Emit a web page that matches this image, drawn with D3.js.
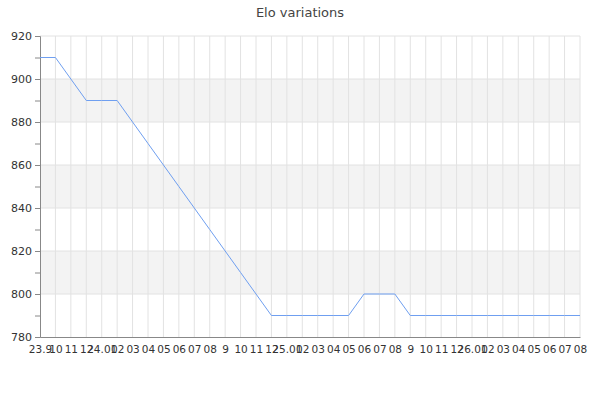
<!DOCTYPE html>
<html>
<head>
<meta charset="utf-8">
<script src="https://cdn.jsdelivr.net/npm/d3@7"></script>
<style>
  body { margin: 0; background: #fff; }
  svg { font-family: "DejaVu Sans", sans-serif; }
</style>
</head>
<body>
<svg id="chart" width="600" height="400"></svg>
<script>
// x labels as shown on the chart (year.month)
var labels = ["23.9", "10", "11", "12",
  "24.01", "02", "03", "04", "05", "06", "07", "08", "9", "10", "11", "12",
  "25.01", "02", "03", "04", "05", "06", "07", "08", "9", "10", "11", "12",
  "26.01", "02", "03", "04", "05", "06", "07", "08"];

var elo = [910, 910, 900, 890, 890, 890, 880, 870, 860, 850, 840, 830,
  820, 810, 800, 790, 790, 790, 790, 790, 790, 800, 800, 800,
  790, 790, 790, 790, 790, 790, 790, 790, 790, 790, 790, 790];

var yTicks = [780, 800, 820, 840, 860, 880, 900, 920];
var yMinor = [790, 810, 830, 850, 870, 890, 910];

var margin = { left: 40, top: 36, right: 20, bottom: 63 };
var width = 600 - margin.left - margin.right,
    height = 400 - margin.top - margin.bottom;

var svg = d3.select("#chart");

svg.append("text")
    .attr("x", 300)
    .attr("y", 17)
    .attr("text-anchor", "middle")
    .style("font-size", "13px")
    .style("fill", "#444")
    .text("Elo variations");

var g = svg.append("g")
    .attr("transform", "translate(" + margin.left + "," + margin.top + ")");

var x = d3.scalePoint()
    .domain(d3.range(labels.length))
    .range([0, width]);

var y = d3.scaleLinear()
    .domain([780, 920])
    .range([height, 0]);

// alternating bands
var bands = [[800, 820], [840, 860], [880, 900]];
g.selectAll("rect.band")
    .data(bands)
    .enter().append("rect")
    .attr("class", "band")
    .attr("x", 0)
    .attr("width", width)
    .attr("y", function(d) { return y(d[1]); })
    .attr("height", function(d) { return y(d[0]) - y(d[1]); })
    .style("fill", "#f3f3f3");

// horizontal grid
g.selectAll("line.hgrid")
    .data(yTicks.slice(1))
    .enter().append("line")
    .attr("class", "hgrid")
    .attr("x1", 0).attr("x2", width)
    .attr("y1", function(d) { return y(d); })
    .attr("y2", function(d) { return y(d); })
    .style("stroke", "#e2e2e2");

// vertical grid
g.selectAll("line.vgrid")
    .data(d3.range(labels.length).slice(1))
    .enter().append("line")
    .attr("class", "vgrid")
    .attr("x1", function(d) { return x(d); })
    .attr("x2", function(d) { return x(d); })
    .attr("y1", 0).attr("y2", height)
    .style("stroke", "#e2e2e2");

// y axis
var yAxis = g.append("g")
    .call(d3.axisLeft(y).tickValues(yTicks.concat(yMinor)).tickSize(5)
      .tickFormat(function(d) { return yTicks.indexOf(d) >= 0 ? d : ""; }));

// x axis
var xAxis = g.append("g")
    .attr("transform", "translate(0," + height + ")")
    .call(d3.axisBottom(x).tickSize(0).tickPadding(9)
      .tickFormat(function(i) { return labels[i]; }));

[yAxis, xAxis].forEach(function(a) {
  a.select(".domain").style("stroke", "#888");
  a.selectAll(".tick line").style("stroke", "#888");
  a.selectAll("text")
      .style("font-family", "DejaVu Sans, sans-serif")
      .style("fill", "#333");
});
yAxis.selectAll("text").style("font-size", "11px");
xAxis.selectAll("text").style("font-size", "10.5px");

// line
var line = d3.line()
    .x(function(d, i) { return x(i); })
    .y(function(d) { return y(d); });

g.append("path")
    .datum(elo)
    .attr("d", line)
    .style("fill", "none")
    .style("stroke", "#6f9ff0")
    .style("stroke-width", 1);
</script>
</body>
</html>
